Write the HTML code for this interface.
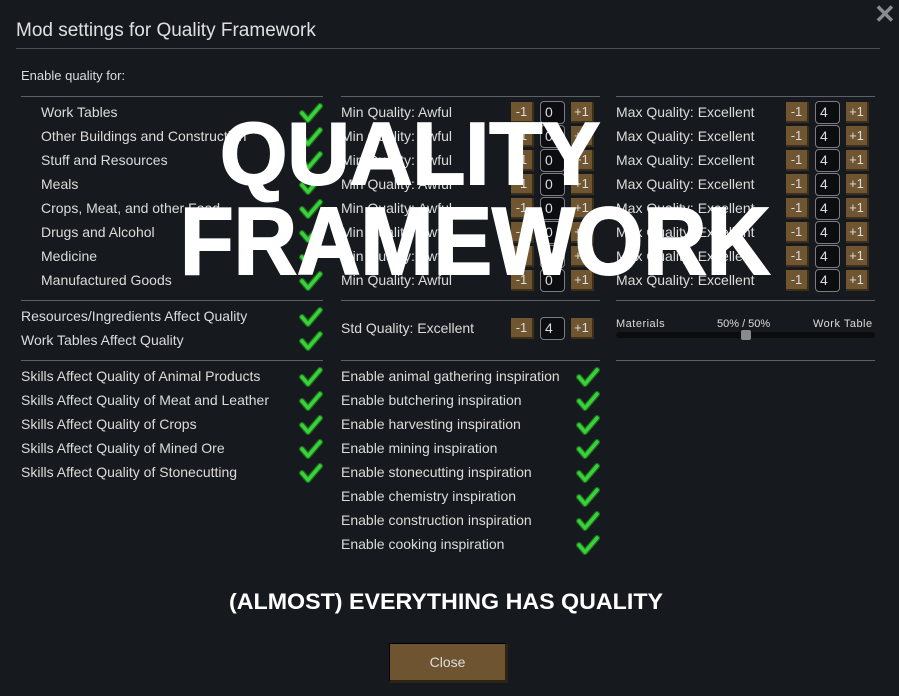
<!DOCTYPE html>
<html><head><meta charset="utf-8">
<style>
html,body{margin:0;padding:0;background:#16191e;}
#r{position:relative;width:899px;height:696px;overflow:hidden;background:#16191e;font-family:"Liberation Sans",sans-serif;color:#dcdcdc;}
.t{position:absolute;font-size:14px;white-space:nowrap;line-height:16px;}
.hl{position:absolute;height:1px;background:#5d6066;}
.b{position:absolute;width:23px;height:21px;background:#6f5630;border-right:2px solid #3c2f1a;border-bottom:2px solid #3c2f1a;box-sizing:border-box;color:#ddd;font-size:13px;text-align:center;line-height:19px;}
.bx{position:absolute;width:25px;height:23px;border:1px solid #7a7d82;border-radius:4px;background:#0c0d10;box-sizing:border-box;font-size:14px;line-height:21px;padding-left:4px;color:#ddd;}
svg.c{position:absolute;width:24px;height:22px;}
</style></head><body><div id="r">
<div class="t" style="left:16px;top:20px;font-size:19px;line-height:22px;color:#e0e0e0">Mod settings for Quality Framework</div>
<div class="hl" style="left:16px;top:48px;width:864px;background:#4a4d52"></div>
<div style="position:absolute;left:874px;top:2px;font-size:26px;color:#8a8c90;font-weight:bold;line-height:24px">✕</div>
<div class="t" style="left:21px;top:68px;font-size:13px">Enable quality for:</div>
<div id="c"></div>
<svg style="position:absolute;left:0;top:0" width="899" height="696">
<g fill="#fff" font-family="Liberation Sans, sans-serif" font-weight="bold">
<text x="220" y="184" font-size="88" textLength="380" lengthAdjust="spacingAndGlyphs" stroke="#fff" stroke-width="2">QUALITY</text>
<text x="180" y="274" font-size="96" textLength="590" lengthAdjust="spacingAndGlyphs" stroke="#fff" stroke-width="2">FRAMEWORK</text>
<text x="229" y="609" font-size="22" textLength="434" lengthAdjust="spacingAndGlyphs">(ALMOST) EVERYTHING HAS QUALITY</text>
</g></svg>
<div style="position:absolute;left:389px;top:643px;width:119px;height:40px;background:#6e5430;border:1px solid #000;border-right:3px solid #2d2416;border-bottom:3px solid #2d2416;box-sizing:border-box;text-align:center;line-height:36px;font-size:14px;color:#ddd">Close</div>
</div>
<script>
var c=document.getElementById('c'),h='';
function t(x,y,s,fs){h+='<div class="t" style="left:'+x+'px;top:'+(y-8)+'px'+(fs?';font-size:'+fs+'px':'')+'">'+s+'</div>';}
function ck(x,y){h+='<svg class="c" style="left:'+x+'px;top:'+(y-10)+'px" viewBox="0 0 24 22"><polyline points="3,11 9,18 21,4" fill="none" stroke="#1c6e1c" stroke-width="6" stroke-linejoin="round" stroke-linecap="round"/><polyline points="3,11 9,18 21,4" fill="none" stroke="#3ad23a" stroke-width="3.5" stroke-linejoin="round" stroke-linecap="round"/></svg>';}
function ln(x,y,w){h+='<div class="hl" style="left:'+x+'px;top:'+y+'px;width:'+w+'px"></div>';}
function bt(x,y,v){h+='<div class="b" style="left:'+x+'px;top:'+(y-10)+'px">-1</div><div class="bx" style="left:'+(x+29)+'px;top:'+(y-11)+'px">'+v+'</div><div class="b" style="left:'+(x+60)+'px;top:'+(y-10)+'px">+1</div>';}
ln(21,96,302);ln(341,96,259);ln(616,96,259);
var a=["Work Tables","Other Buildings and Construction","Stuff and Resources","Meals","Crops, Meat, and other Food","Drugs and Alcohol","Medicine","Manufactured Goods"];
for(var i=0;i<8;i++){var y=112+24*i;t(41,y,a[i]);ck(299,y);t(341,y,"Min Quality: Awful");bt(511,y,"0");t(616,y,"Max Quality: Excellent");bt(786,y,"4");}
ln(21,300,302);ln(341,300,259);ln(616,300,259);
t(21,316,"Resources/Ingredients Affect Quality");ck(299,316);t(21,340,"Work Tables Affect Quality");ck(299,340);
t(341,328,"Std Quality: Excellent");bt(511,328,"4");
h+='<div class="t" style="left:616px;top:316px;font-size:11px;letter-spacing:0.5px">Materials</div><div class="t" style="left:717px;top:316px;font-size:11px">50% / 50%</div><div class="t" style="left:813px;top:316px;font-size:11px;letter-spacing:0.5px">Work Table</div>';
h+='<div style="position:absolute;left:616px;top:332px;width:259px;height:6px;border-radius:3px;background:#0b0c0e"></div><div style="position:absolute;left:741px;top:330px;width:10px;height:10px;border-radius:2px;background:#8a8a8a"></div>';
ln(21,360,302);ln(341,360,259);ln(616,360,259);
var s=["Skills Affect Quality of Animal Products","Skills Affect Quality of Meat and Leather","Skills Affect Quality of Crops","Skills Affect Quality of Mined Ore","Skills Affect Quality of Stonecutting"];
for(i=0;i<5;i++){var y=376+24*i;t(21,y,s[i]);ck(299,y);}
var e=["animal gathering","butchering","harvesting","mining","stonecutting","chemistry","construction","cooking"];
for(i=0;i<8;i++){var y=376+24*i;t(341,y,"Enable "+e[i]+" inspiration");ck(576,y);}
c.innerHTML=h;
</script>
</body></html>
